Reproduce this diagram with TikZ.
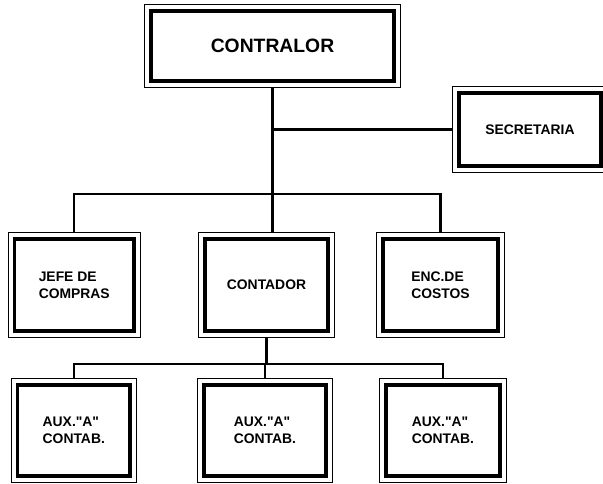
\documentclass[tikz,border=0pt]{standalone}
\usepackage{fontspec}
\setmainfont{Liberation Sans}
\newfontfamily\orgfont{Liberation Sans}
\usetikzlibrary{positioning,backgrounds}

\begin{document}
\begin{tikzpicture}[x=0.02cm,y=-0.02cm,
  post/.style={draw=black,line width=1.9pt,fill=white,inner sep=0pt,outer sep=0pt,
    preaction={draw=black,line width=7.9pt},preaction={draw=white,line width=6.3pt},
    font=\orgfont\bfseries\fontsize{7.9}{9.6}\selectfont,align=left},
  link/.style={draw=black,line width=1.2pt}]
\useasboundingbox (0,0) rectangle (603,484);
\node[post,minimum width=4.86cm,minimum height=1.4cm,font=\orgfont\bfseries\fontsize{11}{13}\selectfont] (contralor) at (272.5,46) {CONTRALOR};
\node[post,minimum width=2.84cm,minimum height=1.46cm] (secretaria) at (530,129.5) {SECRETARIA};
\node[post,minimum width=2.39cm,minimum height=1.84cm] (jefe) at (74.25,285) {JEFE DE\\COMPRAS};
\node[post,minimum width=2.46cm,minimum height=1.84cm] (contador) at (266.5,285) {CONTADOR};
\node[post,minimum width=2.3cm,minimum height=1.84cm] (enc) at (440.5,285) {ENC.DE\\COSTOS};
\node[post,minimum width=2.25cm,minimum height=1.82cm] (aux1) at (73.8,430.5) {AUX."A"\\CONTAB.};
\node[post,minimum width=2.44cm,minimum height=1.82cm] (aux2) at (265,430.5) {AUX."A"\\CONTAB.};
\node[post,minimum width=2.28cm,minimum height=1.82cm] (aux3) at (443,430.5) {AUX."A"\\CONTAB.};
\begin{scope}[on background layer]
\coordinate (bus2) at (0,194);
\coordinate (bus3) at (0,364);
\draw[link] (contralor.south) -- (contralor.south |- contador.north);
\draw[link] (secretaria.west) -- (secretaria.west -| contralor.south);
\draw[link] (jefe.north) -- (jefe.north |- bus2) -- (enc.north |- bus2) -- (enc.north);
\draw[link] (contador.south) -- (contador.south |- bus3);
\draw[link] (aux1.north) -- (aux1.north |- bus3) -- (aux3.north |- bus3) -- (aux3.north);
\draw[link] (aux2.north) -- (aux2.north |- bus3);
\end{scope}
\end{tikzpicture}
\end{document}
